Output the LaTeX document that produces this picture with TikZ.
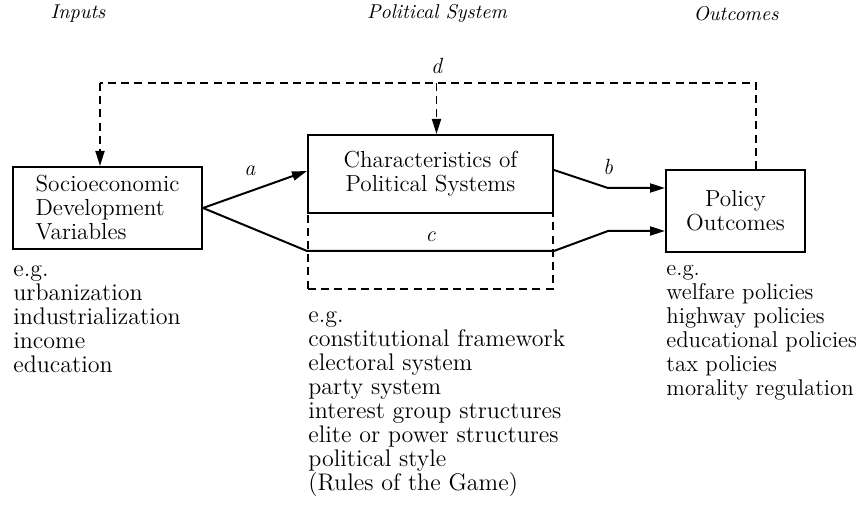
\documentclass[tikz,border=0pt]{standalone}
\usepackage{tikz}
\usetikzlibrary{positioning,arrows.meta}
\tikzset{
variable box/.style = {
             draw,
             line width=1pt,
             inner sep=0pt,
             font=\fontsize{11.6}{12}\selectfont
   },
link/.style = {
     -{Triangle[length=7.5pt,width=4.5pt]},
     line width=1pt
     },
feedback/.style = {
     dashed,
     dash pattern=on 4pt off 2.6pt,
     line width=0.9pt
  },
example list/.style = {
    align=left,
    anchor=north west,
    inner sep=0pt,
    font=\fontsize{12}{12}\selectfont
  },
column title/.style = {
    font=\fontsize{10}{12}\selectfont\itshape
  },
path label/.style = {
    font=\fontsize{11}{12}\selectfont\itshape
  }
}

\begin{document}
\begin{tikzpicture}[x=0.5pt,y=-0.5pt,font=\fontsize{11}{12}\selectfont]
\useasboundingbox (0,0) rectangle (861,522);
% column titles
\node[column title] (tin) at (78,14) {Inputs};
\node[column title] (tsys) at (437,14) {Political System};
\node[column title] (tout) at (736,14) {Outcomes};
% boxes
\node[variable box, minimum width=94.5pt, minimum height=41pt, align=left] (socio) at (107.5,208)
   {Socioeconomic\\Development\\Variables};
\node[variable box, minimum width=122.5pt, minimum height=39pt, align=center] (char) at (430.5,174)
   {Characteristics of\\Political Systems};
\node[variable box, minimum width=69.5pt, minimum height=41pt, align=center] (policy) at (735.5,211)
   {Policy\\Outcomes};
\node[feedback, draw, minimum width=122.5pt, minimum height=38pt, inner sep=0pt] (frame) at (430.5,251) {};
% examples
\node[example list] (socio list) at (13,265)
   {e.g.\\urbanization\\industrialization\\income\\education};
\node[example list] (char list) at (308,311)
   {e.g.\\constitutional framework\\electoral system\\party system\\interest group structures\\elite or power structures\\political style\\(Rules of the Game)};
\node[example list, font=\fontsize{11.4}{12}\selectfont] (policy list) at (666,265)
   {e.g.\\welfare policies\\highway policies\\educational policies\\tax policies\\morality regulation};
% paths a, b, c
\coordinate (bbend) at (608,188);
\coordinate (cbend) at (608,231);
\draw[link] (socio.east) -- ([yshift=1.5pt]char.west) node[path label, pos=0.45, above=4pt] {a};
\draw[link] ([yshift=2pt]char.east) -- (bbend) -- (policy.west |- bbend);
\node[path label, above=3pt] (lb) at (bbend) {b};
\draw[link] (socio.east) -- (frame.west) -- (frame.east) -- (cbend) -- (policy.west |- cbend);
\node[path label, above=1pt] (lc) at (frame.center -| char.north) {c};
% path d
\coordinate (dtop) at (756,83);
\coordinate (dleft) at (100,83);
\draw[feedback] (policy.north -| dtop) -- (dtop) -- (dleft);
\draw[feedback, -{Triangle[length=7.5pt,width=4.5pt]}] (dleft) -- (dleft |- socio.north);
\draw[feedback, -{Triangle[length=7.5pt,width=4.5pt]}] ([xshift=3pt]char.north |- dtop) -- ([xshift=3pt]char.north);
\node[path label, above=1pt] (ld) at ([xshift=3pt]char.north |- dtop) {d};
\end{tikzpicture}
\end{document}
